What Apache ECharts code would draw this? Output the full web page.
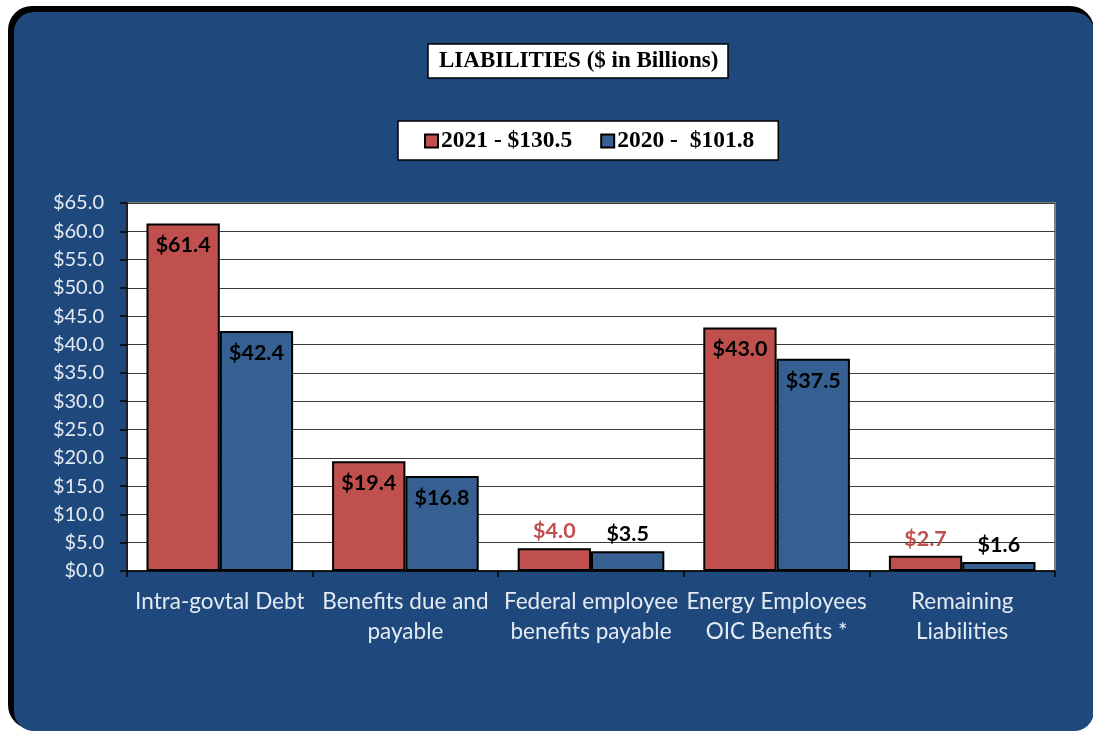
<!DOCTYPE html>
<html>
<head>
<meta charset="utf-8">
<style>
  html, body { margin: 0; padding: 0; background: #ffffff; }
  #chart { width: 1093px; height: 732px; }
</style>
<script src="https://cdn.jsdelivr.net/npm/echarts@6/dist/echarts.min.js"></script>
</head>
<body>
<div id="chart"></div>
<script>
// Liabilities by category, $ in billions
const titleText = 'LIABILITIES ($ in Billions)';
const categories = [
  'Intra-govtal Debt',
  'Benefits due and\npayable',
  'Federal employee\nbenefits payable',
  'Energy Employees\nOIC Benefits *',
  'Remaining\nLiabilities'
];
const seriesNames = ['2021 - $130.5', '2020 -  $101.8'];
const values2021 = [61.4, 19.4, 4.0, 43.0, 2.7];
const values2020 = [42.4, 16.8, 3.5, 37.5, 1.6];
const yMin = 0, yMax = 65, yStep = 5;

const RED = '#C0504D';
const BLUE = '#376092';
const AXIS_TEXT = '#e4eaf2';
const money = v => '$' + v.toFixed(1);

// small bars carry their value above the bar, tall bars inside near the top
function buildData(values, outsideColor) {
  return values.map(v => {
    const tall = v >= 10;
    return {
      value: v,
      label: {
        position: tall ? 'insideTop' : 'top',
        distance: tall ? 11 : 6,
        color: tall ? '#000000' : outsideColor
      }
    };
  });
}

const chart = echarts.init(document.getElementById('chart'), null, { renderer: 'canvas' });

const barLabel = {
  show: true,
  formatter: p => money(p.value),
  fontFamily: 'Lato',
  fontWeight: 'bold',
  fontSize: 21.5
};

chart.setOption({
  animation: false,
  backgroundColor: '#ffffff',
  graphic: [
    {
      type: 'rect', z: -20, silent: true,
      shape: { x: 8, y: 6, width: 1086, height: 723, r: 24 },
      style: { fill: '#000000' }
    },
    {
      type: 'rect', z: -19, silent: true,
      shape: { x: 14, y: 12, width: 1080, height: 719, r: 20 },
      style: { fill: '#1F497D' }
    }
  ],
  title: {
    text: titleText,
    left: 428,
    top: 44,
    backgroundColor: '#ffffff',
    borderColor: '#000000',
    borderWidth: 1.5,
    padding: [6, 10, 5, 11],
    textStyle: {
      fontFamily: 'Liberation Serif',
      fontWeight: 'bold',
      fontSize: 23,
      color: '#000000'
    }
  },
  legend: {
    data: seriesNames,
    left: 398,
    top: 121,
    backgroundColor: '#ffffff',
    borderColor: '#000000',
    borderWidth: 1.5,
    padding: [8, 24, 7, 26],
    itemWidth: 13,
    itemHeight: 13,
    itemGap: 28,
    icon: 'rect',
    textStyle: {
      fontFamily: 'Liberation Serif',
      fontWeight: 'bold',
      fontSize: 23.5,
      color: '#000000',
      padding: [0, 0, 0, -2]
    }
  },
  grid: {
    left: 127,
    right: 38,
    top: 203,
    bottom: 161,
    show: true,
    backgroundColor: '#ffffff',
    borderColor: '#7f7f7f',
    borderWidth: 2,
    containLabel: false
  },
  xAxis: {
    type: 'category',
    data: categories,
    boundaryGap: true,
    axisLine: { show: true, lineStyle: { color: '#000000', width: 1.5 } },
    axisTick: { show: true, length: 6, lineStyle: { color: '#000000', width: 1.5 } },
    axisLabel: {
      interval: 0,
      margin: 16,
      color: AXIS_TEXT,
      fontFamily: 'Lato',
      fontSize: 22.5,
      lineHeight: 30,
      align: 'center'
    }
  },
  yAxis: {
    type: 'value',
    min: yMin,
    max: yMax,
    interval: yStep,
    axisLine: { show: true, lineStyle: { color: '#000000', width: 1.5 } },
    axisTick: { show: true, length: 7, lineStyle: { color: '#000000', width: 1.5 } },
    splitLine: { show: true, lineStyle: { color: '#3a3a3a', width: 1 } },
    axisLabel: {
      margin: 23,
      color: AXIS_TEXT,
      fontFamily: 'Lato',
      fontSize: 20,
      formatter: v => money(v)
    }
  },
  series: [
    {
      name: seriesNames[0],
      type: 'bar',
      data: buildData(values2021, RED),
      barGap: '0%',
      barCategoryGap: '21%',
      itemStyle: { color: RED, borderColor: '#000000', borderWidth: 2 },
      label: barLabel
    },
    {
      name: seriesNames[1],
      type: 'bar',
      data: buildData(values2020, '#000000'),
      barGap: '0%',
      barCategoryGap: '21%',
      itemStyle: { color: BLUE, borderColor: '#000000', borderWidth: 2 },
      label: barLabel
    }
  ]
});
</script>
</body>
</html>
